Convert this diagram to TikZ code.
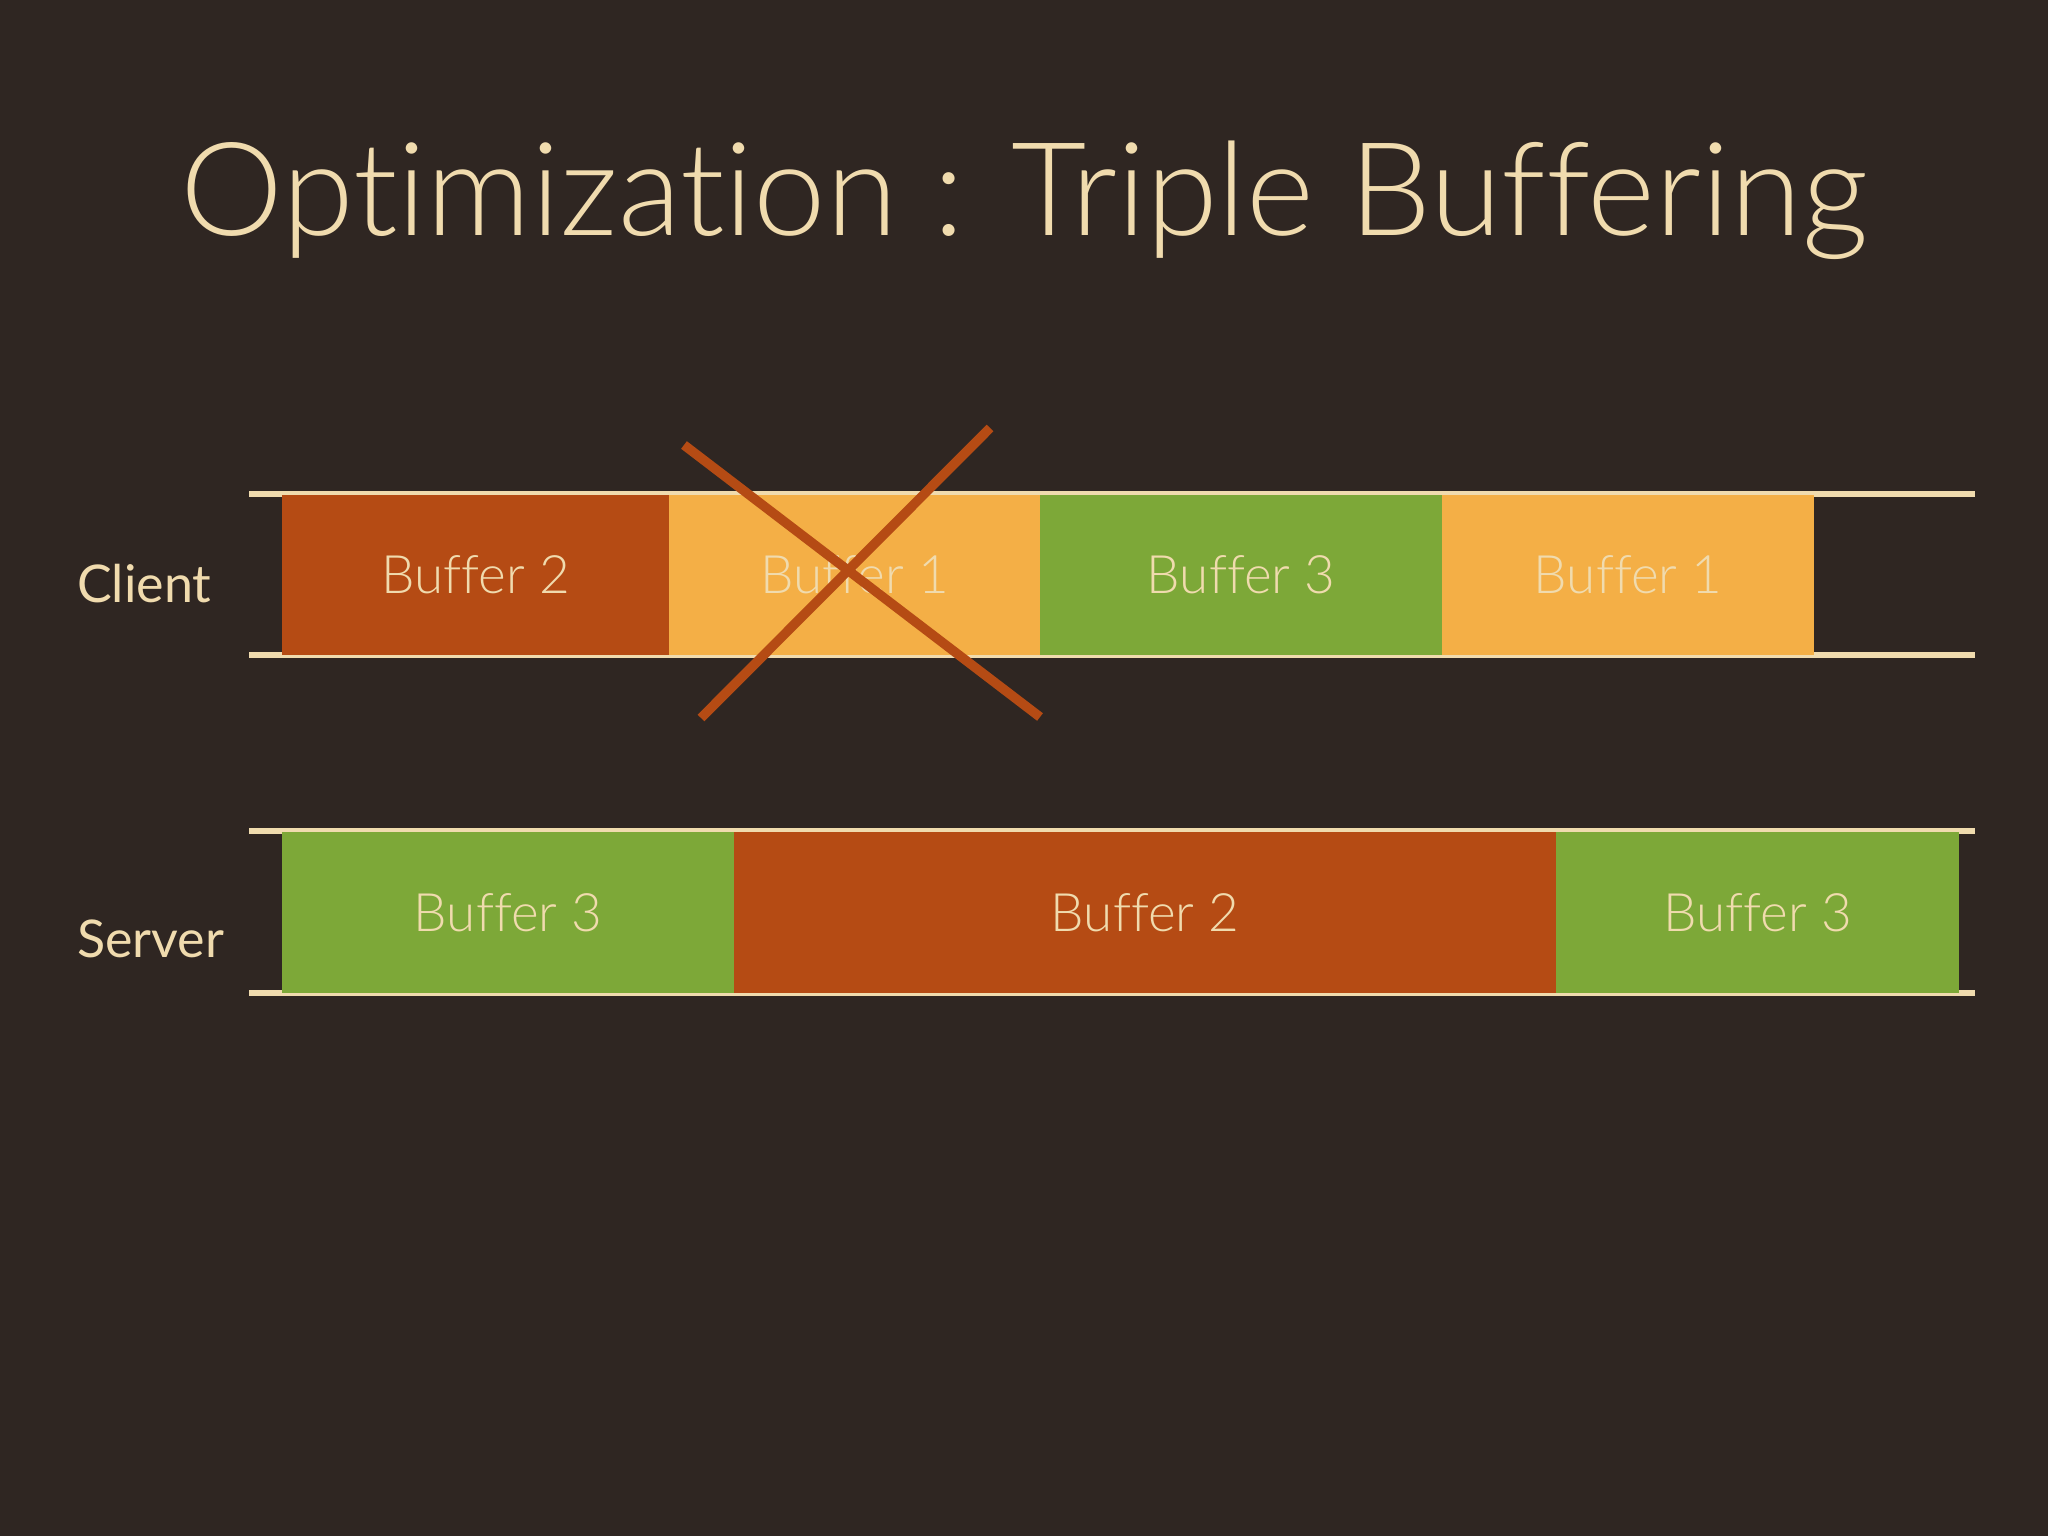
\documentclass[tikz,border=0pt]{standalone}
\usepackage{fontspec}
\newfontfamily\lightfont{Lato Light}[RawFeature=-liga]
\newfontfamily\regfont{Lato}[RawFeature=-liga]
\definecolor{bg}{HTML}{2F2622}
\definecolor{cream}{HTML}{F0DBAE}
\definecolor{rust}{HTML}{B54B14}
\definecolor{lorange}{HTML}{F4AF46}
\definecolor{lgreen}{HTML}{7DA838}
\tikzset{
  buf/.style={draw=none, anchor=north west, minimum height=160pt, inner sep=0pt,
    text=cream, font=\lightfont\fontsize{53}{58}\selectfont},
  rail/.style={draw=cream, line width=5.5pt},
  rowlabel/.style={anchor=west, inner sep=0pt, text=cream, font=\regfont\fontsize{52}{58}\selectfont},
  crossline/.style={draw=rust, line width=9.5pt},
}
\begin{document}
\begin{tikzpicture}[x=1pt,y=-1pt]
\fill[bg] (0,0) rectangle (2048,1536);
\useasboundingbox (0,0) rectangle (2048,1536);
\node[text=cream, font=\lightfont\fontsize{130}{150}\selectfont, inner sep=0pt] (title) at (1024,200) {Optimization : Triple Buffering};
% rails
\coordinate (ctl) at (249,494); \coordinate (ctr) at (1975,494);
\coordinate (cbl) at (249,655); \coordinate (cbr) at (1975,655);
\coordinate (stl) at (249,831); \coordinate (str) at (1975,831);
\coordinate (sbl) at (249,993); \coordinate (sbr) at (1975,993);
\draw[rail] (ctl) -- (ctr);
\draw[rail] (cbl) -- (cbr);
\draw[rail] (stl) -- (str);
\draw[rail] (sbl) -- (sbr);
% client buffers
\node[buf, fill=rust, minimum width=387pt] (c1) at (282,495) {Buffer 2};
\node[buf, fill=lorange, minimum width=371pt] (c2) at (669,495) {Buffer 1};
\node[buf, fill=lgreen, minimum width=402pt] (c3) at (1040,495) {Buffer 3};
\node[buf, fill=lorange, minimum width=372pt] (c4) at (1442,495) {Buffer 1};
% server buffers
\node[buf, fill=lgreen, minimum width=452pt, minimum height=161pt] (s1) at (282,832) {Buffer 3};
\node[buf, fill=rust, minimum width=822pt, minimum height=161pt] (s2) at (734,832) {Buffer 2};
\node[buf, fill=lgreen, minimum width=403pt, minimum height=161pt] (s3) at (1556,832) {Buffer 3};
% labels
\node[rowlabel] (client) at (77,584) {Client};
\node[rowlabel] (server) at (77,939) {Server};
% cross
\coordinate (xa1) at (684,445); \coordinate (xa2) at (1040,717);
\coordinate (xb1) at (990,428); \coordinate (xb2) at (701,718);
\draw[crossline] (xa1) -- (xa2);
\draw[crossline] (xb1) -- (xb2);
\end{tikzpicture}
\end{document}
